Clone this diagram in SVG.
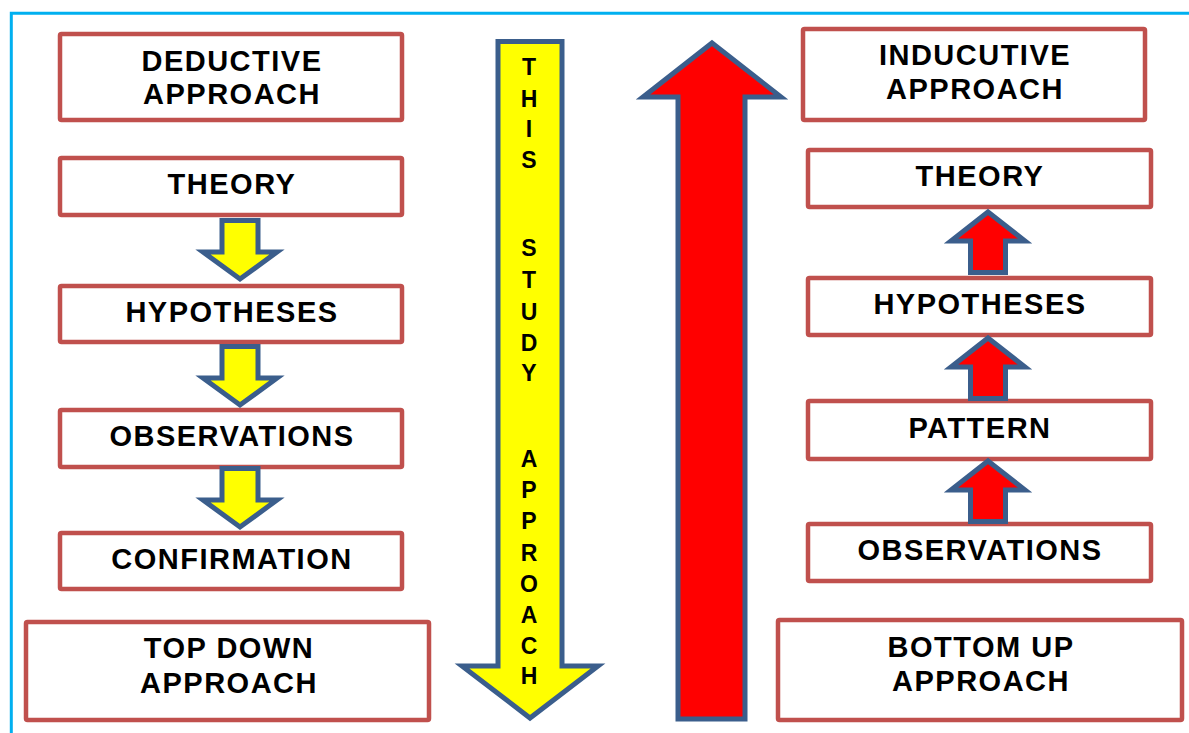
<svg xmlns="http://www.w3.org/2000/svg" width="1189" height="733" viewBox="0 0 1189 733">
  <defs>
    <style>
      .box { fill: #FFFFFF; stroke: #C0504D; stroke-width: 4.5; }
      .lbl { font-family: "Liberation Sans", Arial, sans-serif; font-weight: bold; font-size: 29px; letter-spacing: 1.5px; fill: #000000; text-anchor: middle; }
      .vlbl { font-family: "Liberation Sans", Arial, sans-serif; font-weight: bold; font-size: 23px; fill: #000000; text-anchor: middle; }
      .yel { fill: #FFFF00; stroke: #3B5E8C; stroke-width: 5; stroke-linejoin: miter; }
      .red { fill: #FF0000; stroke: #3B5E8C; stroke-width: 5; stroke-linejoin: miter; }
      .frame { fill: none; stroke: #00B0F0; stroke-width: 3; }
    </style>
    <!-- small block arrows, origin at top-centre of shaft / tip -->
    <path id="downArrow" d="M-18,0 H18 V31.5 H37 L0,58.5 L-37,31.5 H-18 Z"/>
    <path id="upArrow" d="M0,0 L37,29 H17.5 V60.5 H-17.5 V29 H-37 Z"/>
  </defs>

  <rect width="1189" height="733" fill="#FFFFFF"/>

  <!-- page frame -->
  <path class="frame" d="M11.3,733 V13.3 H1189"/>

  <!-- left column: deductive -->
  <g id="deductive-approach">
    <rect class="box" x="60" y="34" width="342" height="86" rx="1.5"/>
    <text class="lbl" x="232" y="71">DEDUCTIVE</text>
    <text class="lbl" x="232" y="104">APPROACH</text>
  </g>
  <g id="deductive-theory">
    <rect class="box" x="60" y="158" width="342" height="57" rx="1.5"/>
    <text class="lbl" x="232" y="194">THEORY</text>
  </g>
  <g id="deductive-hypotheses">
    <rect class="box" x="60" y="286" width="342" height="56" rx="1.5"/>
    <text class="lbl" x="232" y="322">HYPOTHESES</text>
  </g>
  <g id="deductive-observations">
    <rect class="box" x="60" y="410" width="342" height="57" rx="1.5"/>
    <text class="lbl" x="232" y="446">OBSERVATIONS</text>
  </g>
  <g id="deductive-confirmation">
    <rect class="box" x="60" y="533" width="342" height="56" rx="1.5"/>
    <text class="lbl" x="232" y="569">CONFIRMATION</text>
  </g>
  <g id="top-down">
    <rect class="box" x="26" y="622" width="403" height="98" rx="1.5"/>
    <text class="lbl" x="229" y="658">TOP DOWN</text>
    <text class="lbl" x="229" y="693">APPROACH</text>
  </g>

  <!-- centre: study approach (down) -->
  <g id="study-arrow">
    <path class="yel" d="M498,41.5 H562 V666 H598 L530,718 L462,666 H498 Z"/>
    <text class="vlbl" x="529" y="75">T</text>
    <text class="vlbl" x="529" y="107">H</text>
    <text class="vlbl" x="529" y="137">I</text>
    <text class="vlbl" x="529" y="168">S</text>
    <text class="vlbl" x="529" y="256">S</text>
    <text class="vlbl" x="529" y="288">T</text>
    <text class="vlbl" x="529" y="320">U</text>
    <text class="vlbl" x="529" y="351">D</text>
    <text class="vlbl" x="529" y="381">Y</text>
    <text class="vlbl" x="529" y="467">A</text>
    <text class="vlbl" x="529" y="498">P</text>
    <text class="vlbl" x="529" y="529">P</text>
    <text class="vlbl" x="529" y="561">R</text>
    <text class="vlbl" x="529" y="592">O</text>
    <text class="vlbl" x="529" y="623">A</text>
    <text class="vlbl" x="529" y="654">C</text>
    <text class="vlbl" x="529" y="684">H</text>
  </g>

  <!-- centre: inductive direction (up) -->
  <g id="inductive-arrow">
    <path class="red" d="M712,43 L781,97 H745 V719 H678 V97 H643 Z"/>
  </g>

  <!-- right column: inductive -->
  <g id="inductive-approach">
    <rect class="box" x="803" y="29" width="342" height="91" rx="1.5"/>
    <text class="lbl" x="975" y="65">INDUCUTIVE</text>
    <text class="lbl" x="975" y="99">APPROACH</text>
  </g>
  <g id="inductive-theory">
    <rect class="box" x="808" y="150" width="343" height="57" rx="1.5"/>
    <text class="lbl" x="980" y="186">THEORY</text>
  </g>
  <g id="inductive-hypotheses">
    <rect class="box" x="808" y="278" width="343" height="57" rx="1.5"/>
    <text class="lbl" x="980" y="314">HYPOTHESES</text>
  </g>
  <g id="inductive-pattern">
    <rect class="box" x="808" y="401" width="343" height="58" rx="1.5"/>
    <text class="lbl" x="980" y="438">PATTERN</text>
  </g>
  <g id="inductive-observations">
    <rect class="box" x="808" y="524" width="343" height="57" rx="1.5"/>
    <text class="lbl" x="980" y="560">OBSERVATIONS</text>
  </g>
  <g id="bottom-up">
    <rect class="box" x="778" y="620" width="404" height="100" rx="1.5"/>
    <text class="lbl" x="981" y="657">BOTTOM UP</text>
    <text class="lbl" x="981" y="691">APPROACH</text>
  </g>

  <!-- connectors between steps -->
  <g id="connectors">
    <use href="#downArrow" class="yel" transform="translate(240,220.5)"/>
    <use href="#downArrow" class="yel" transform="translate(240,346.5)"/>
    <use href="#downArrow" class="yel" transform="translate(240,468.5)"/>
    <use href="#upArrow" class="red" transform="translate(988,212)"/>
    <use href="#upArrow" class="red" transform="translate(988,338)"/>
    <use href="#upArrow" class="red" transform="translate(988,461)"/>
  </g>
</svg>
